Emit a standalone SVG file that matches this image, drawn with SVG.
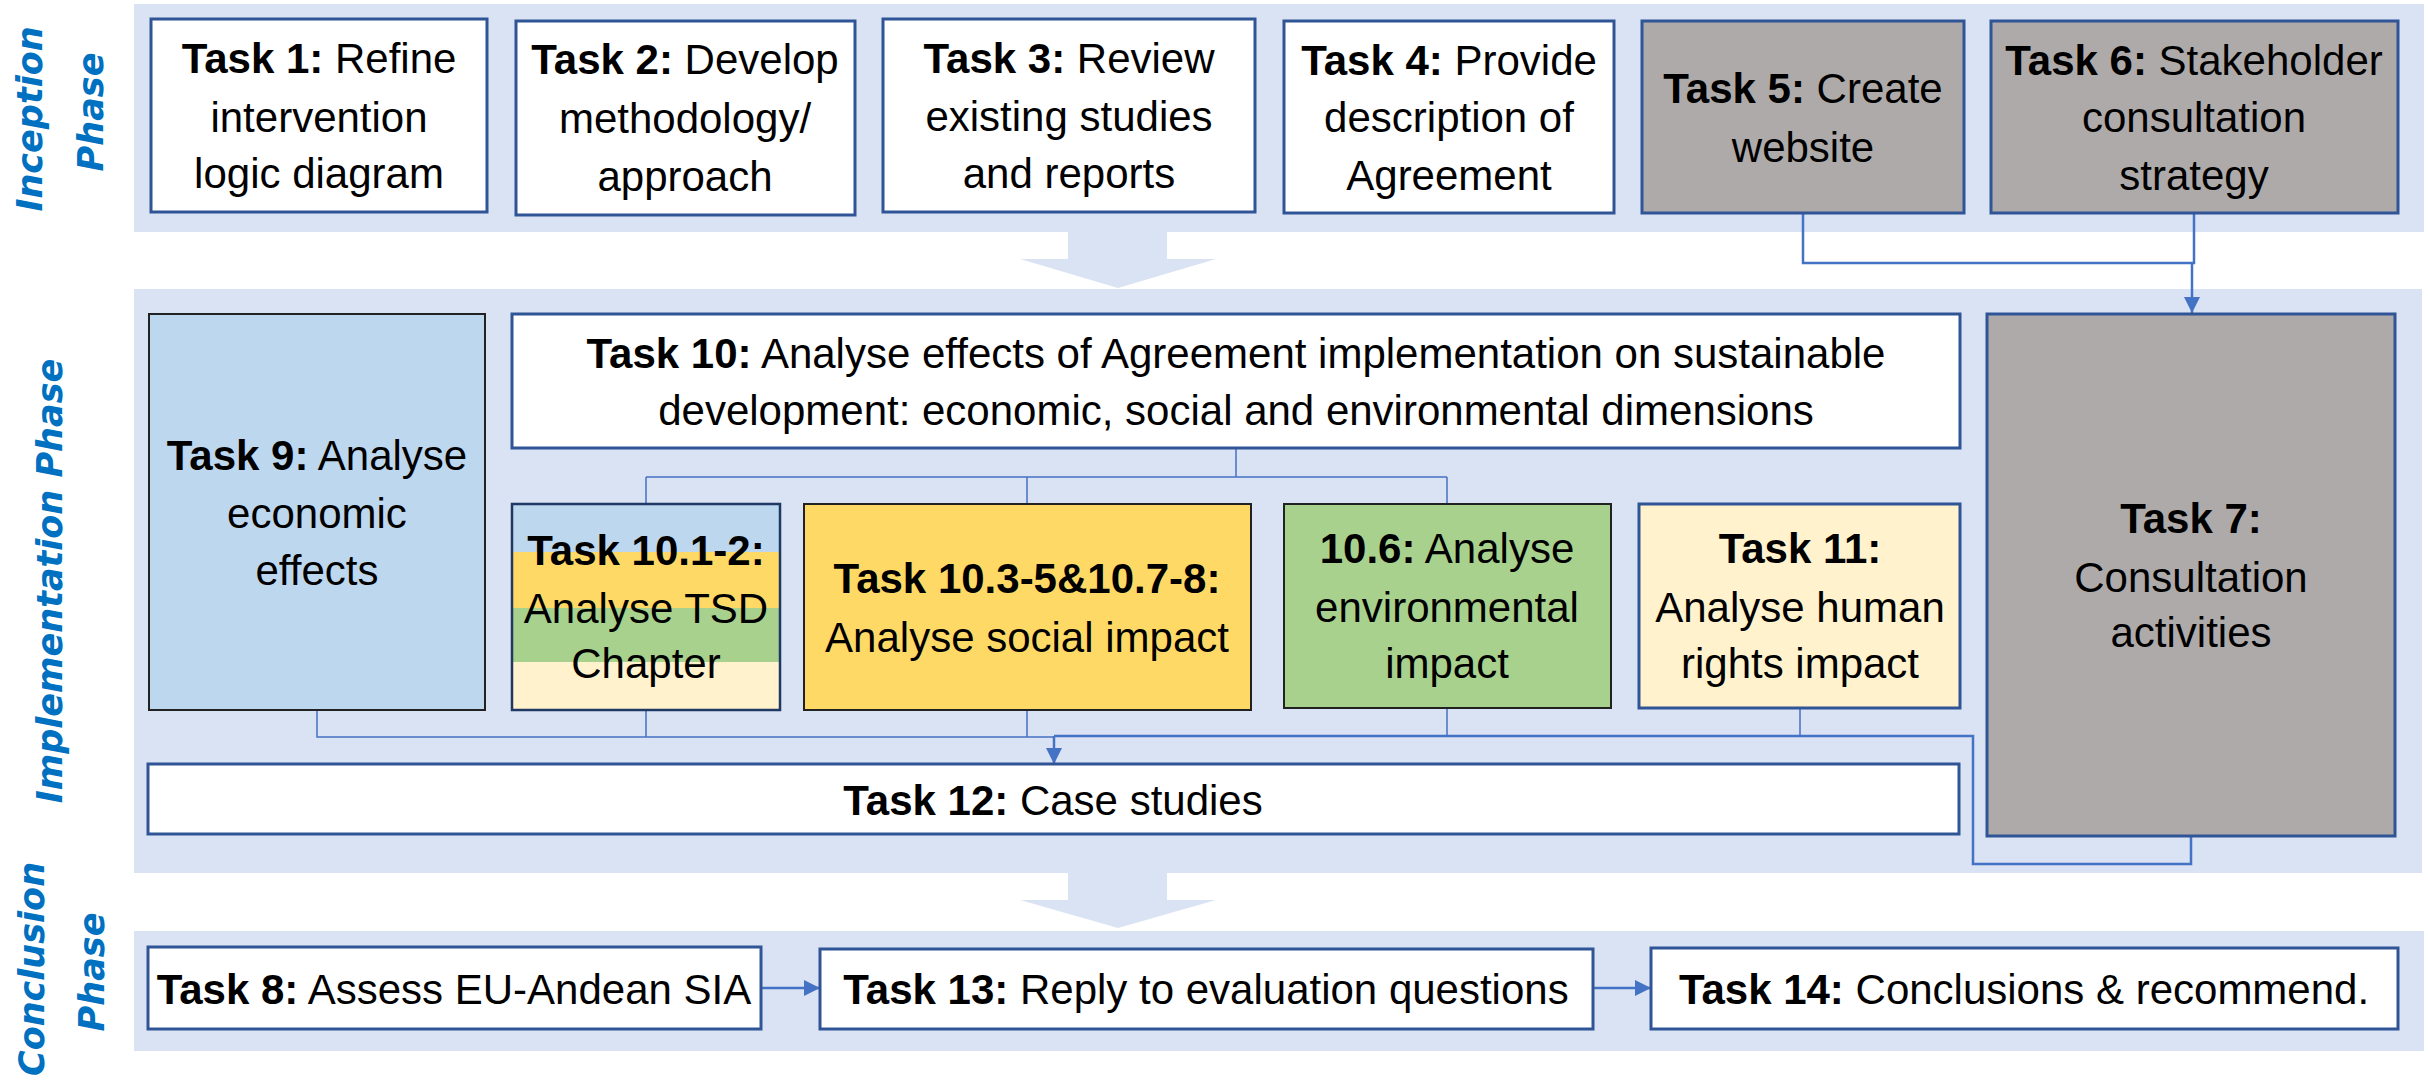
<svg xmlns="http://www.w3.org/2000/svg" width="2428" height="1080" viewBox="0 0 2428 1080">
<defs>
<style>
.band{fill:#DAE3F3;}
.box{stroke:#2F5597;stroke-width:3;}
.kbox{stroke:#222;stroke-width:2;}
.w{fill:#FFFFFF;}
.g{fill:#AEAAAA;}
.lb{fill:#BDD7EE;}
.y{fill:#FFD966;}
.gr{fill:#A9D18E;}
.ly{fill:#FFF2CC;}
.t{font-family:'Liberation Sans',Arial,sans-serif;font-size:42px;text-anchor:middle;fill:#000;}
.b{font-weight:bold;}
.ph{font-family:'DejaVu Sans',Verdana,sans-serif;font-size:35px;font-weight:bold;font-style:italic;fill:#0070C0;text-anchor:middle;}
.c{fill:none;stroke:#4472C4;stroke-width:2.5;}
.cn{fill:none;stroke:#4472C4;stroke-width:1.5;}
</style>
<marker id="ah" viewBox="0 0 10 10" refX="10" refY="5" markerWidth="16" markerHeight="16" markerUnits="userSpaceOnUse" orient="auto">
<path d="M0,0 L10,5 L0,10 z" fill="#4472C4"/>
</marker>
</defs>

<g id="bands">
<rect class="band" x="134" y="4" width="2290" height="228"/>
<rect class="band" x="134" y="289" width="2288" height="584"/>
<rect class="band" x="134" y="931" width="2290" height="120"/>
<polygon class="band" points="1068,232 1167,232 1167,259 1216,259 1118,288 1020,259 1068,259"/>
<polygon class="band" points="1068,873 1167,873 1167,900 1216,900 1118,928 1020,900 1068,900"/>
</g>

<g id="phase-labels">
<text class="ph" transform="translate(42,119) rotate(-90)">Inception</text>
<text class="ph" transform="translate(103,112) rotate(-90)">Phase</text>
<text class="ph" transform="translate(62,581) rotate(-90)">Implementation Phase</text>
<text class="ph" transform="translate(44,969) rotate(-90)">Conclusion</text>
<text class="ph" transform="translate(104,972) rotate(-90)">Phase</text>
</g>

<g id="connectors">
<path class="c" d="M1803,213 V263 H2194 V213"/>
<path class="c" d="M2192,263 V313" marker-end="url(#ah)"/>
<path class="cn" d="M1236,448 V477 M646,477 H1447 M646,477 V504 M1027,477 V504 M1447,477 V504"/>
<path class="cn" d="M317,710 V737 H1054 M646,710 V737 M1027,710 V737 M1447,708 V736 M1800,708 V736"/>
<path class="c" d="M1054,736 H1973 V864 H2191 V836"/>
<path class="c" d="M1054,736 V764" marker-end="url(#ah)"/>
<path class="c" d="M761,988 H820" marker-end="url(#ah)"/>
<path class="c" d="M1593,988 H1651" marker-end="url(#ah)"/>
</g>

<g id="task1">
<rect class="box w" x="151" y="19" width="336" height="193"/>
<text class="t" x="319" y="73"><tspan class="b">Task 1:</tspan> Refine</text>
<text class="t" x="319" y="132">intervention</text>
<text class="t" x="319" y="188">logic diagram</text>
</g>
<g id="task2">
<rect class="box w" x="516" y="21" width="339" height="194"/>
<text class="t" x="685" y="74"><tspan class="b">Task 2:</tspan> Develop</text>
<text class="t" x="685" y="133">methodology/</text>
<text class="t" x="685" y="191">approach</text>
</g>
<g id="task3">
<rect class="box w" x="883" y="19" width="372" height="193"/>
<text class="t" x="1069" y="73"><tspan class="b">Task 3:</tspan> Review</text>
<text class="t" x="1069" y="131">existing studies</text>
<text class="t" x="1069" y="188">and reports</text>
</g>
<g id="task4">
<rect class="box w" x="1284" y="21" width="330" height="192"/>
<text class="t" x="1449" y="75"><tspan class="b">Task 4:</tspan> Provide</text>
<text class="t" x="1449" y="132">description of</text>
<text class="t" x="1449" y="190">Agreement</text>
</g>
<g id="task5">
<rect class="box g" x="1642" y="21" width="322" height="192"/>
<text class="t" x="1803" y="103"><tspan class="b">Task 5:</tspan> Create</text>
<text class="t" x="1803" y="162">website</text>
</g>
<g id="task6">
<rect class="box g" x="1991" y="21" width="407" height="192"/>
<text class="t" x="2194" y="75"><tspan class="b">Task 6:</tspan> Stakeholder</text>
<text class="t" x="2194" y="132">consultation</text>
<text class="t" x="2194" y="190">strategy</text>
</g>

<g id="task9">
<rect class="kbox lb" x="149" y="314" width="336" height="396"/>
<text class="t" x="317" y="470"><tspan class="b">Task 9:</tspan> Analyse</text>
<text class="t" x="317" y="528">economic</text>
<text class="t" x="317" y="585">effects</text>
</g>
<g id="task10">
<rect class="box w" x="512" y="314" width="1448" height="134"/>
<text class="t" x="1236" y="368"><tspan class="b">Task 10:</tspan> Analyse effects of Agreement implementation on sustainable</text>
<text class="t" x="1236" y="425">development: economic, social and environmental dimensions</text>
</g>
<g id="task10-1-2">
<rect class="lb" x="512" y="504" width="268" height="48"/>
<rect class="y" x="512" y="552" width="268" height="56"/>
<rect class="gr" x="512" y="608" width="268" height="54"/>
<rect class="ly" x="512" y="662" width="268" height="48"/>
<rect x="512" y="504" width="268" height="206" fill="none" stroke="#1F3864" stroke-width="2.5"/>
<text class="t" x="646" y="565"><tspan class="b">Task 10.1-2:</tspan></text>
<text class="t" x="646" y="623">Analyse TSD</text>
<text class="t" x="646" y="678">Chapter</text>
</g>
<g id="task10-3">
<rect class="kbox y" x="804" y="504" width="447" height="206"/>
<text class="t" x="1027" y="593"><tspan class="b">Task 10.3-5&amp;10.7-8:</tspan></text>
<text class="t" x="1027" y="652">Analyse social impact</text>
</g>
<g id="task10-6">
<rect class="kbox gr" x="1284" y="504" width="327" height="204"/>
<text class="t" x="1447" y="563"><tspan class="b">10.6:</tspan> Analyse</text>
<text class="t" x="1447" y="622">environmental</text>
<text class="t" x="1447" y="678">impact</text>
</g>
<g id="task11">
<rect class="box ly" x="1639" y="504" width="321" height="204"/>
<text class="t" x="1800" y="563"><tspan class="b">Task 11:</tspan></text>
<text class="t" x="1800" y="622">Analyse human</text>
<text class="t" x="1800" y="678">rights impact</text>
</g>
<g id="task7">
<rect class="box g" x="1987" y="314" width="408" height="522"/>
<text class="t" x="2191" y="533"><tspan class="b">Task 7:</tspan></text>
<text class="t" x="2191" y="592">Consultation</text>
<text class="t" x="2191" y="647">activities</text>
</g>
<g id="task12">
<rect class="box w" x="148" y="764" width="1811" height="70"/>
<text class="t" x="1053" y="815"><tspan class="b">Task 12:</tspan> Case studies</text>
</g>

<g id="task8">
<rect class="box w" x="148" y="947" width="613" height="82"/>
<text class="t" x="454" y="1004"><tspan class="b">Task 8:</tspan> Assess EU-Andean SIA</text>
</g>
<g id="task13">
<rect class="box w" x="820" y="949" width="773" height="80"/>
<text class="t" x="1206" y="1004"><tspan class="b">Task 13:</tspan> Reply to evaluation questions</text>
</g>
<g id="task14">
<rect class="box w" x="1651" y="948" width="747" height="81"/>
<text class="t" x="2024" y="1004"><tspan class="b">Task 14:</tspan> Conclusions &amp; recommend.</text>
</g>
</svg>
